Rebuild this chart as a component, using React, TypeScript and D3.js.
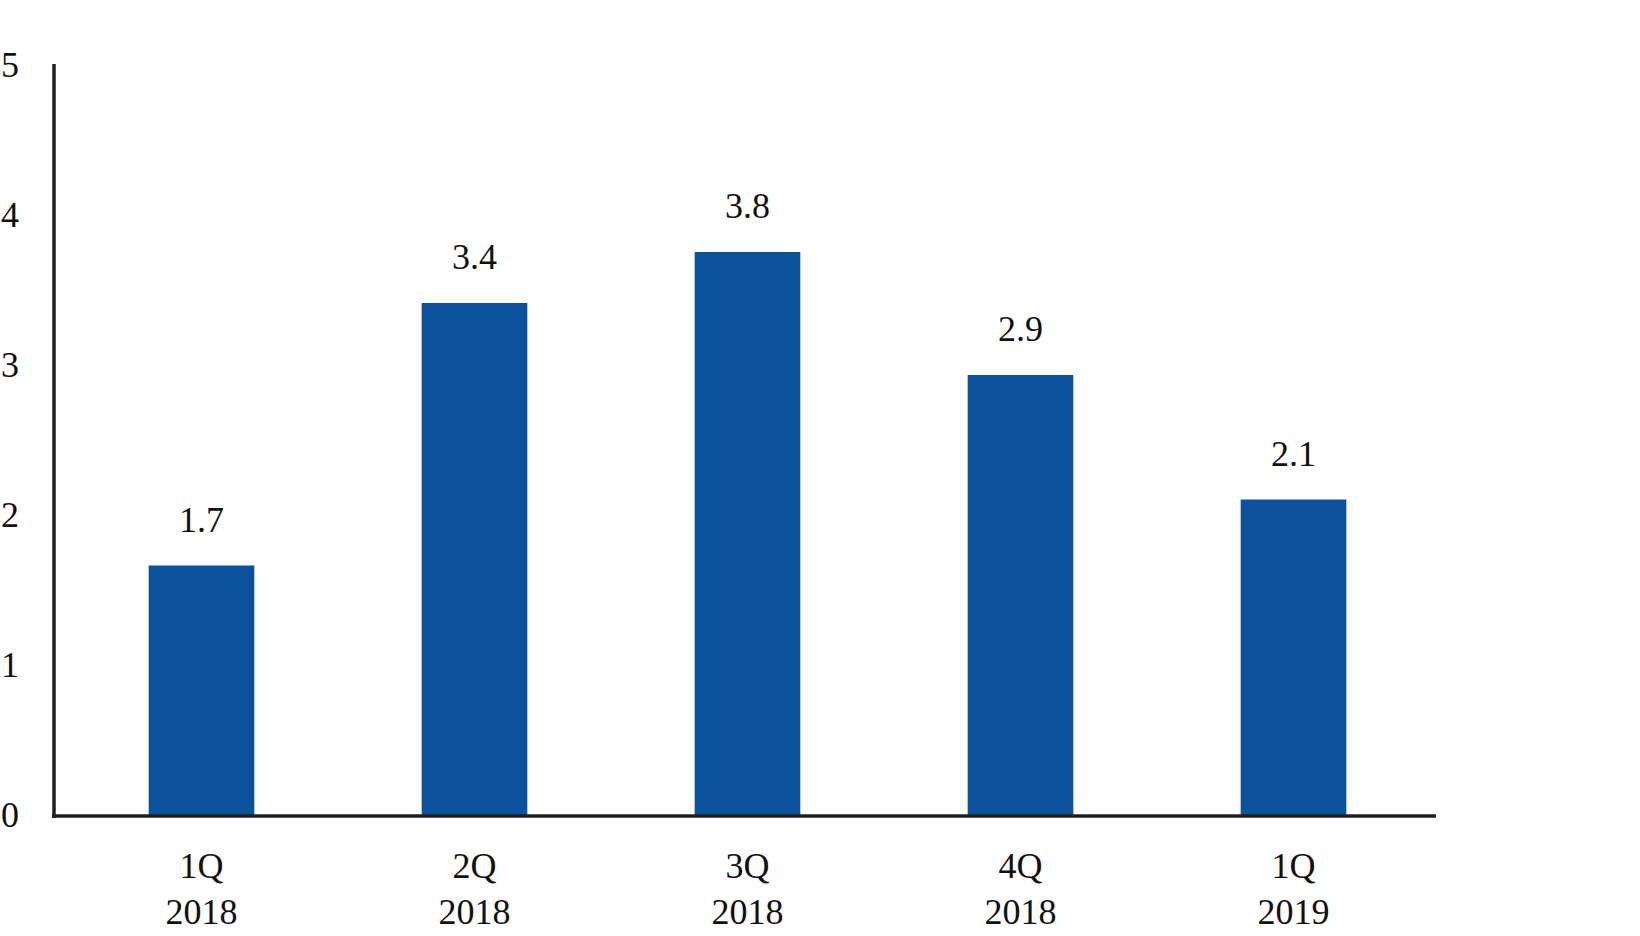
import React from 'react';
import * as d3 from 'd3';

const quarters = ['1Q', '2Q', '3Q', '4Q', '1Q'];
const years = ['2018', '2018', '2018', '2018', '2019'];
const values = [1.67, 3.42, 3.76, 2.94, 2.11];
const valueLabels = ['1.7', '3.4', '3.8', '2.9', '2.1'];
const yTicks = [0, 1, 2, 3, 4, 5];

const W = 1640;
const H = 936;
const FONT = '"Liberation Serif", "Times New Roman", serif';

export default function App() {
  const x = d3.scaleBand<number>()
    .domain(d3.range(values.length))
    .range([65, 1430])
    .paddingInner(0.613)
    .paddingOuter(0.3065);

  const y = d3.scaleLinear().domain([0, 5]).range([816, 66]);

  return (
    <svg
      width={W}
      height={H}
      viewBox={`0 0 ${W} ${H}`}
      style={{ position: 'absolute', left: 0, top: 0, background: '#fff' }}
    >
      {/* bars */}
      {values.map((v, i) => (
        <rect
          key={i}
          x={x(i)}
          y={y(v)}
          width={x.bandwidth()}
          height={y(0) - y(v)}
          fill="#0b529c"
        />
      ))}

      {/* value labels */}
      {values.map((v, i) => (
        <text
          key={i}
          x={(x(i) ?? 0) + x.bandwidth() / 2}
          y={y(v) - 34}
          textAnchor="middle"
          fontFamily={FONT}
          fontSize={36}
          fill="#111"
        >
          {valueLabels[i]}
        </text>
      ))}

      {/* axes */}
      <line x1={54} x2={54} y1={64} y2={818} stroke="#231f20" strokeWidth={3.5} />
      <line x1={52} x2={1436} y1={816} y2={816} stroke="#231f20" strokeWidth={3.5} />

      {/* y tick labels */}
      {yTicks.map((t) => (
        <text
          key={t}
          x={1}
          y={y(t) + 11}
          fontFamily={FONT}
          fontSize={36}
          fill="#111"
        >
          {t}
        </text>
      ))}

      {/* x labels */}
      {quarters.map((q, i) => {
        const cx = (x(i) ?? 0) + x.bandwidth() / 2;
        return (
          <text key={i} textAnchor="middle" fontFamily={FONT} fontSize={36} fill="#111">
            <tspan x={cx} y={878}>{q}</tspan>
            <tspan x={cx} y={924}>{years[i]}</tspan>
          </text>
        );
      })}
    </svg>
  );
}
